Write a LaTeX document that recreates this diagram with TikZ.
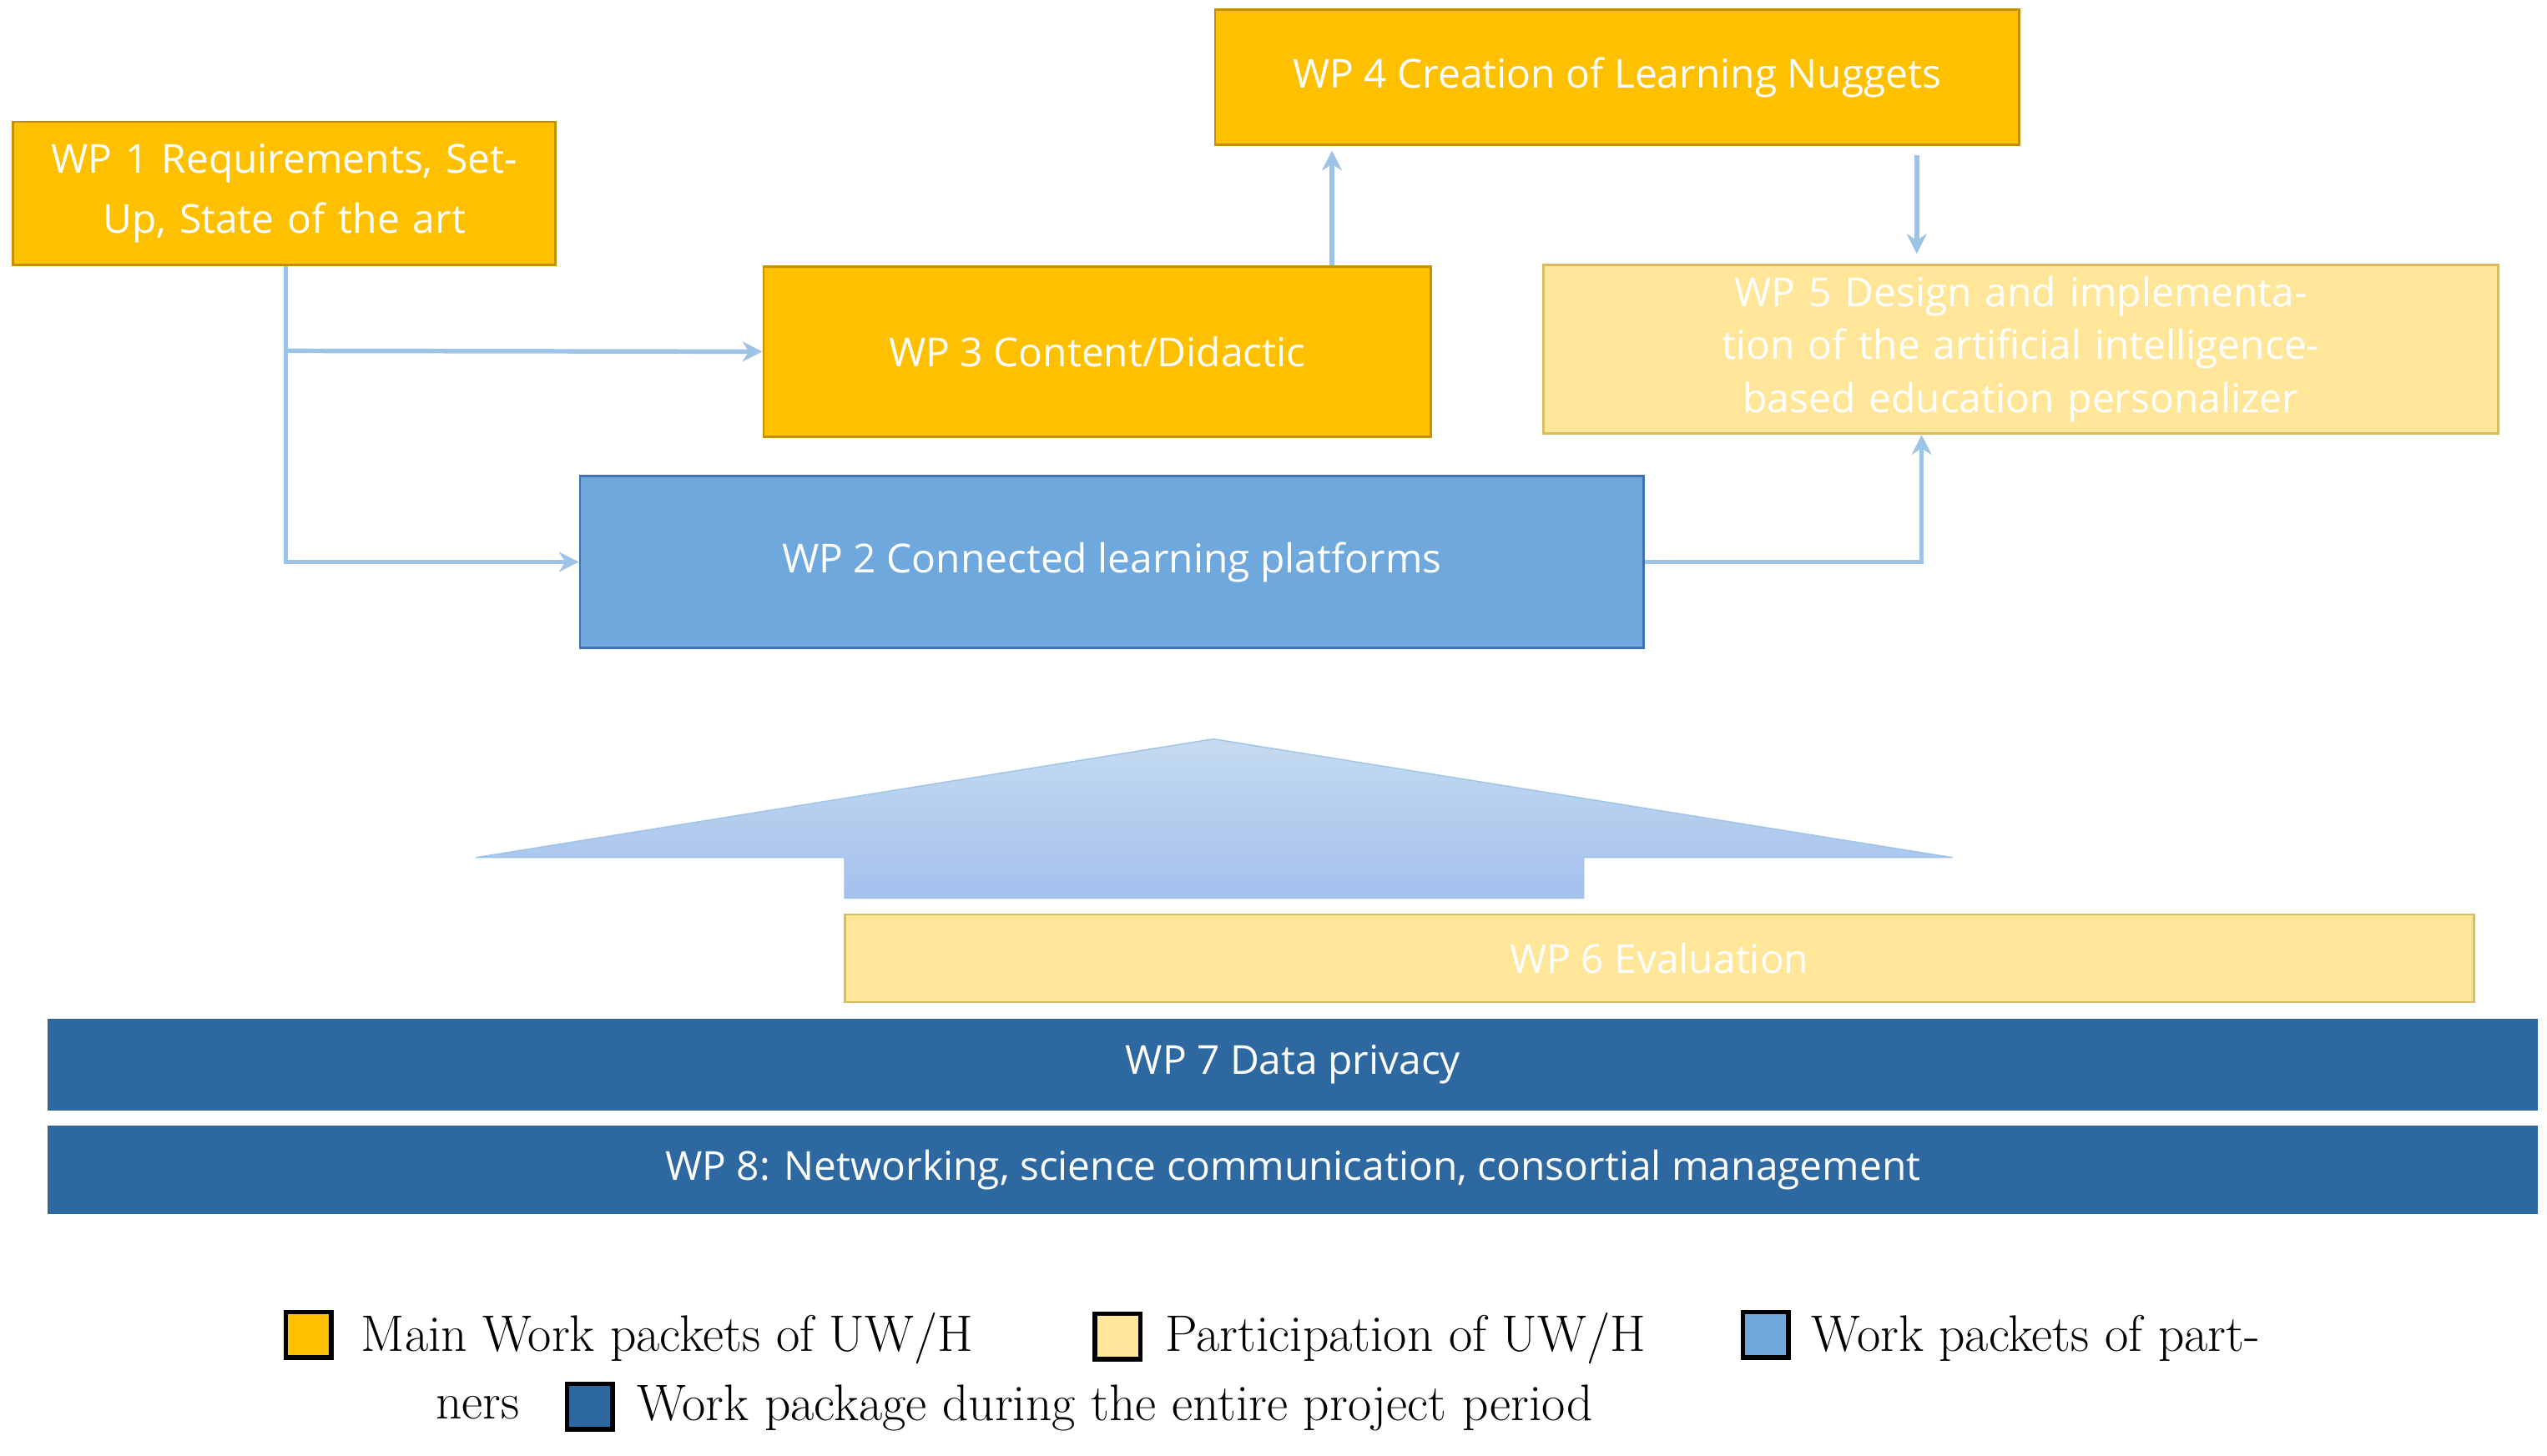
\documentclass[tikz,border=0pt]{standalone}
\usepackage{fontspec}
\setmainfont{Open Sans}
\newfontfamily\legfont{Latin Modern Roman}
\usetikzlibrary{arrows.meta}
\definecolor{orangeA}{HTML}{FFC000}
\definecolor{orangeB}{HTML}{C49000}
\definecolor{lightY}{HTML}{FFE699}
\definecolor{lightYB}{HTML}{D9BB60}
\definecolor{midB}{HTML}{6FA8DC}
\definecolor{midBB}{HTML}{3F72AF}
\definecolor{darkB}{HTML}{2E68A0}
\definecolor{conn}{HTML}{9DC3E6}
\begin{document}
\begin{tikzpicture}[x={(0.02cm,0)},y={(0,-0.02cm)},
 box/.style={draw, line width=0.8pt, text=white, align=center, inner sep=2pt, font=\fontsize{14}{21}\selectfont},
 main/.style={box, fill=orangeA, draw=orangeB},
 part/.style={box, fill=lightY, draw=lightYB},
 partner/.style={box, fill=midB, draw=midBB},
 entire/.style={box, fill=darkB, draw=darkB},
 con/.style={draw=conn, line width=1.6pt, -{Stealth[length=7pt,width=7pt]}},
 sq/.style={draw=black, line width=1.6pt, minimum size=0.56cm, inner sep=0pt},
 leg/.style={anchor=west, inner sep=0pt, font=\legfont\fontsize{18}{22}\selectfont}]
\useasboundingbox (0,0) rectangle (1568,896);
\node[main, minimum width=6.68cm, minimum height=1.76cm, text width=6.3cm] (wp1) at (175,119) {WP 1 Requirements, Set-\\Up, State of the art};
\node[main, minimum width=9.9cm, minimum height=1.66cm] (wp4) at (995.5,47.5) {WP 4 Creation of Learning Nuggets};
\node[main, minimum width=8.22cm, minimum height=2.1cm] (wp3) at (675.5,216.5) {WP 3 Content/Didactic};
\node[part, minimum width=11.76cm, minimum height=2.08cm, text width=10cm, font=\fontsize{14}{18.5}\selectfont] (wp5) at (1244,215) {WP 5 Design and implementation of the artificial intelligence-based education personalizer};
\node[partner, minimum width=13.1cm, minimum height=2.12cm] (wp2) at (684.5,346) {WP 2 Connected learning platforms};
\shade[top color=conn!60!white, bottom color=conn!90!blue!80!white, draw=conn] (747,455) -- (1202,528) -- (975,528) -- (975,553) -- (520,553) -- (520,528) -- (293,528) -- cycle;
\node[part, minimum width=20.06cm, minimum height=1.08cm] (wp6) at (1021.5,590) {WP 6 Evaluation};
\node[entire, minimum width=30.64cm, minimum height=1.1cm] (wp7) at (796,655.5) {WP 7 Data privacy};
\node[entire, minimum width=30.64cm, minimum height=1.06cm] (wp8) at (796,720.5) {WP 8: Networking, science communication, consortial management};
\coordinate (b1) at (176,216);
\coordinate (c1) at (176,346);
\draw[con] (wp1.south -| b1) -- (c1) -- (wp2.west);
\draw[con] (b1) -- (wp3.west);
\draw[con] (wp3.north -| 820,0) -- ([yshift=-0.06cm]wp4.south -| 820,0);
\draw[con] ([yshift=-0.12cm]wp4.south -| 1180,0) -- ([yshift=0.12cm]wp5.north -| 1180,0);
\coordinate (c2) at (1183,346);
\draw[con] (wp2.east) -- (c2) -- (wp5.south -| c2);
% legend
\node[sq, fill=orangeA] (s1) at (190,822) {};
\node[leg] (l1) at (222,824) {Main Work packets of UW/H};
\node[sq, fill=lightY] (s2) at (688,823) {};
\node[leg] (l2) at (717,824) {Participation of UW/H};
\node[sq, fill=midB] (s3) at (1087,822) {};
\node[leg] (l3) at (1115,824) {Work packets of part-};
\node[leg] (l4) at (268,867) {ners};
\node[sq, fill=darkB] (s4) at (363,866) {};
\node[leg] (l5) at (392,867) {Work package during the entire project period};
\end{tikzpicture}
\end{document}
